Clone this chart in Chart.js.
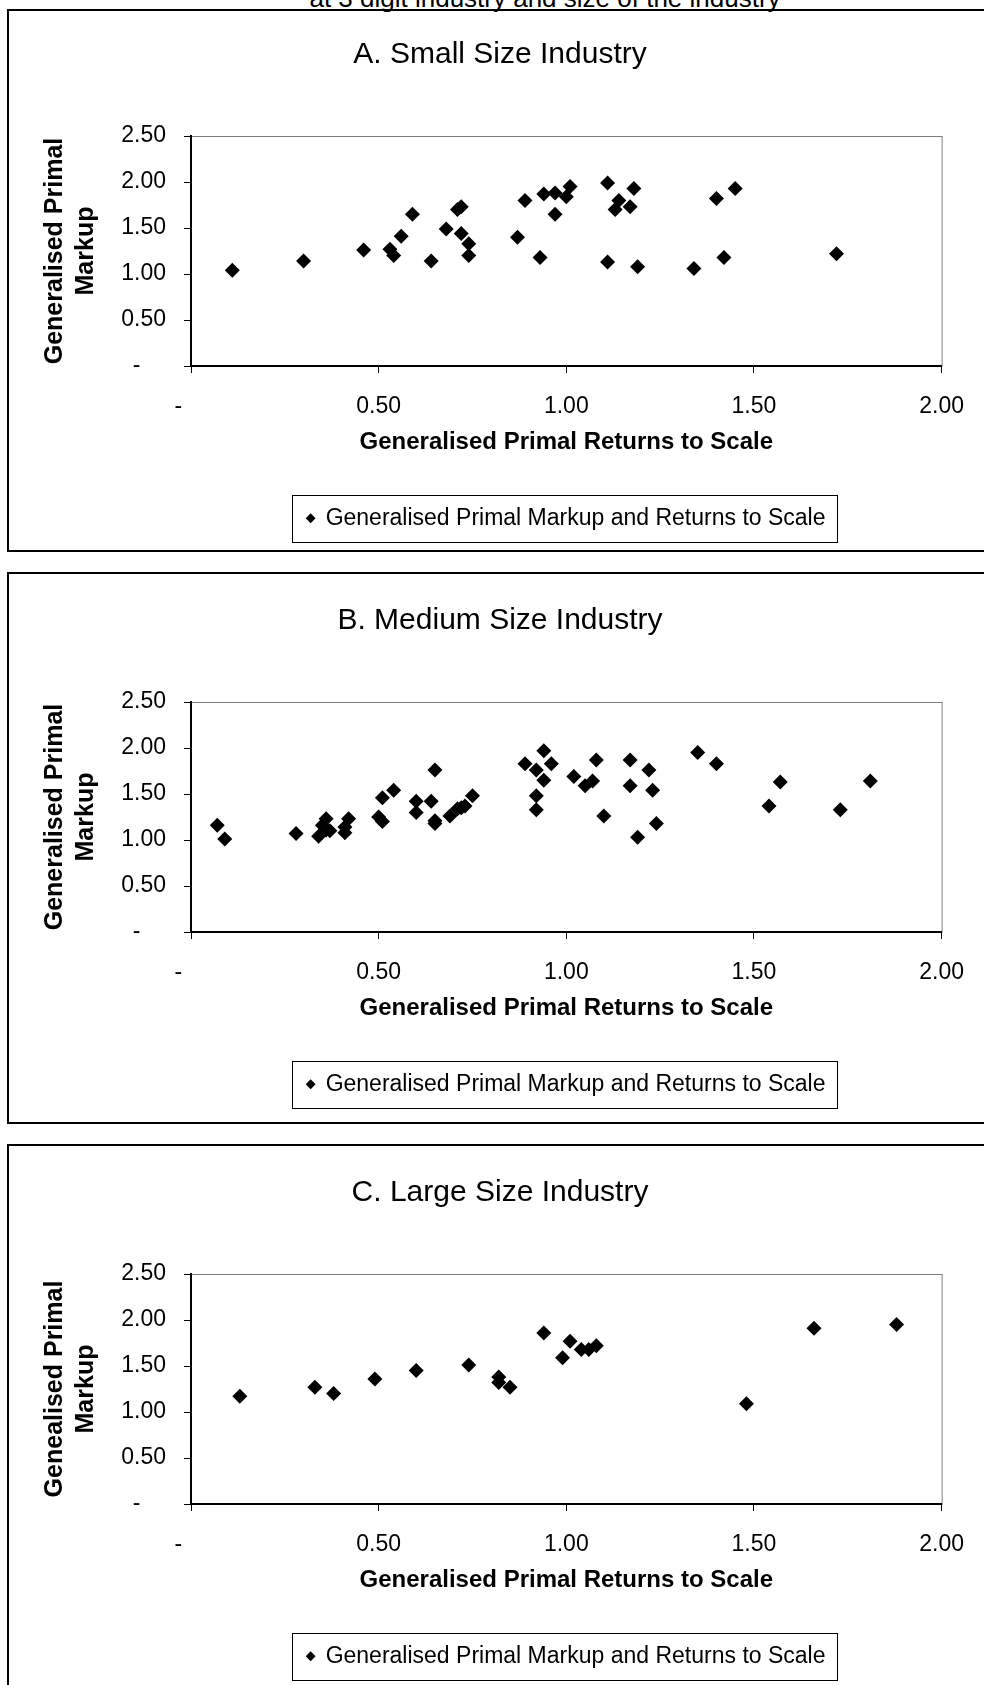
<!DOCTYPE html>
<html>
<head>
<meta charset="utf-8">
<script src="https://cdn.jsdelivr.net/npm/chart.js@4.4.0/dist/chart.umd.min.js"></script>
<style>
html, body { margin: 0; padding: 0; background: #fff; }
body { width: 984px; height: 1685px; position: relative; overflow: hidden; font-family: 'Liberation Sans', Arial, sans-serif; }
.caption { position: absolute; left: 0; width: 1090px; top: -15px; text-align: center; font-size: 26px; line-height: 26px; color: #000; }
.panel { position: absolute; left: 7px; width: 1000px; border: 2px solid #000; box-sizing: border-box; }
.chart { position: absolute; left: 0; width: 984px; height: 550px; }
</style>
</head>
<body>
<div class="caption">at 3 digit industry and size of the industry</div>
<div class="panel" style="top:9px;height:543px"></div>
<div class="panel" style="top:572px;height:552px"></div>
<div class="panel" style="top:1144px;height:600px"></div>
<div class="chart" style="top:-3px"><canvas id="small"></canvas></div>
<div class="chart" style="top:563px"><canvas id="medium"></canvas></div>
<div class="chart" style="top:1135px"><canvas id="large"></canvas></div>
<script>
// values (returns to scale, markup)
const smallRts = [0.11, 0.30, 0.46, 0.53, 0.54, 0.56, 0.59, 0.64, 0.68, 0.71, 0.72, 0.72, 0.74, 0.74, 0.87, 0.89, 0.93,
    0.94, 0.97, 0.97, 1.00, 1.01, 1.11, 1.11, 1.13, 1.14, 1.17, 1.18, 1.19, 1.34, 1.40, 1.42, 1.45, 1.72];
const smallMarkup = [1.04, 1.14, 1.26, 1.27, 1.20, 1.41, 1.65, 1.14, 1.49, 1.70, 1.73, 1.44, 1.33, 1.20, 1.40, 1.80, 1.18,
    1.87, 1.88, 1.65, 1.84, 1.95, 1.99, 1.13, 1.70, 1.80, 1.73, 1.93, 1.08, 1.06, 1.82, 1.18, 1.93, 1.22];

const mediumRts = [0.07, 0.09, 0.28, 0.34, 0.35, 0.36, 0.36, 0.37, 0.41, 0.41, 0.42, 0.50, 0.51, 0.51, 0.54, 0.60, 0.60,
    0.64, 0.65, 0.65, 0.65, 0.69, 0.71, 0.72, 0.73, 0.75, 0.89, 0.92, 0.92, 0.92, 0.94, 0.94, 0.96, 1.02, 1.05, 1.07,
    1.08, 1.10, 1.17, 1.17, 1.19, 1.22, 1.23, 1.24, 1.35, 1.40, 1.54, 1.57, 1.73, 1.81];
const mediumMarkup = [1.16, 1.01, 1.07, 1.04, 1.16, 1.11, 1.23, 1.10, 1.08, 1.14, 1.23, 1.25, 1.46, 1.20, 1.54, 1.42, 1.30,
    1.42, 1.21, 1.76, 1.18, 1.26, 1.34, 1.35, 1.37, 1.48, 1.83, 1.76, 1.48, 1.33, 1.97, 1.65, 1.83, 1.69, 1.59, 1.64,
    1.87, 1.26, 1.87, 1.59, 1.03, 1.76, 1.54, 1.18, 1.95, 1.83, 1.37, 1.63, 1.33, 1.64];

const largeRts = [0.13, 0.33, 0.38, 0.49, 0.60, 0.74, 0.82, 0.82, 0.85, 0.94, 0.99, 1.01, 1.04, 1.06, 1.08, 1.48, 1.66, 1.88];
const largeMarkup = [1.17, 1.27, 1.20, 1.36, 1.45, 1.51, 1.38, 1.32, 1.27, 1.86, 1.59, 1.77, 1.68, 1.68, 1.72, 1.09, 1.91, 1.95];

const seriesLabel = 'Generalised Primal Markup and Returns to Scale';
const xTitle = 'Generalised Primal Returns to Scale';

Chart.defaults.font.family = "'Liberation Sans', Arial, sans-serif";
Chart.defaults.color = '#000';

function tickLabel(value) {
    return value === 0 ? '-\u2007\u2007' : value.toFixed(2);
}

// grey frame round the plot area (axes then draw over left and bottom)
const plotFrame = {
    id: 'plotFrame',
    beforeDraw(chart) {
        const {ctx, chartArea: a} = chart;
        ctx.save();
        ctx.strokeStyle = '#808080';
        ctx.lineWidth = 1;
        ctx.strokeRect(a.left + 0.5, a.top + 0.5, a.right - a.left, a.bottom - a.top);
        ctx.restore();
    }
};

// box round the legend entry
const legendFrame = {
    id: 'legendFrame',
    afterDraw(chart) {
        const hb = chart.legend.legendHitBoxes[0];
        if (!hb) return;
        const ctx = chart.ctx;
        ctx.save();
        ctx.strokeStyle = '#000';
        ctx.lineWidth = 1;
        ctx.strokeRect(Math.round(hb.left - 15) + 0.5, Math.round(hb.top - 12) + 0.5,
            Math.round(hb.width + 27), Math.round(hb.height + 24));
        ctx.restore();
    }
};

function makeChart(id, title, yTitle, xs, ys) {
    let ctx = document.getElementById(id);
    return new Chart(ctx, {
        type: 'scatter',
        data: {
            datasets: [{
                label: seriesLabel,
                data: xs.map(function (x, i) { return {x: x, y: ys[i]}; }),
                backgroundColor: '#000',
                borderColor: '#000',
                borderWidth: 0,
                pointStyle: 'rectRot',
                pointRadius: 7.5,
                pointHoverRadius: 7.5
            }]
        },
        options: {
            responsive: true,
            maintainAspectRatio: false,
            animation: false,
            events: [],
            layout: {
                padding: {left: 16, right: 0, top: 0, bottom: 7.2}
            },
            scales: {
                x: {
                    type: 'linear',
                    position: 'bottom',
                    min: 0,
                    max: 2,
                    ticks: {stepSize: 0.5, padding: 20, font: {size: 23}, color: '#000', callback: tickLabel, maxRotation: 0},
                    grid: {drawOnChartArea: false, drawTicks: true, tickLength: 7, color: '#000'},
                    border: {display: true, color: '#000', width: 2},
                    title: {display: true, text: xTitle, font: {size: 24, weight: 'bold'}, padding: 0, color: '#000'},
                    afterFit: function (scale) { scale.height = 90.8; }
                },
                y: {
                    type: 'linear',
                    position: 'left',
                    min: 0,
                    max: 2.5,
                    ticks: {stepSize: 0.5, padding: 18, font: {size: 23}, color: '#000', callback: tickLabel},
                    grid: {drawOnChartArea: false, drawTicks: true, tickLength: 7, color: '#000'},
                    border: {display: true, color: '#000', width: 2},
                    title: {
                        display: true,
                        text: yTitle,
                        font: {size: 25, weight: 'bold', lineHeight: 1.24},
                        padding: {top: 24, bottom: 0},
                        color: '#000'
                    },
                    afterFit: function (scale) { scale.width = 175; }
                },
                yRight: {
                    type: 'linear',
                    position: 'right',
                    ticks: {display: false},
                    grid: {display: false},
                    border: {display: false},
                    afterFit: function (scale) { scale.width = 42; }
                }
            },
            plugins: {
                title: {
                    display: true,
                    text: title,
                    font: {size: 30, weight: 'normal'},
                    color: '#000',
                    padding: {top: 40, bottom: 63}
                },
                legend: {
                    position: 'bottom',
                    fullSize: false,
                    labels: {
                        usePointStyle: true,
                        boxWidth: 7,
                        boxHeight: 7,
                        padding: 50,
                        font: {size: 23},
                        color: '#000'
                    }
                },
                tooltip: {enabled: false}
            }
        },
        plugins: [plotFrame, legendFrame]
    });
}

makeChart('small', 'A. Small Size Industry', ['Generalised Primal', 'Markup'], smallRts, smallMarkup);
makeChart('medium', 'B. Medium Size Industry', ['Generalised Primal', 'Markup'], mediumRts, mediumMarkup);
makeChart('large', 'C. Large Size Industry', ['Genealised Primal', 'Markup'], largeRts, largeMarkup);
</script>
</body>
</html>
